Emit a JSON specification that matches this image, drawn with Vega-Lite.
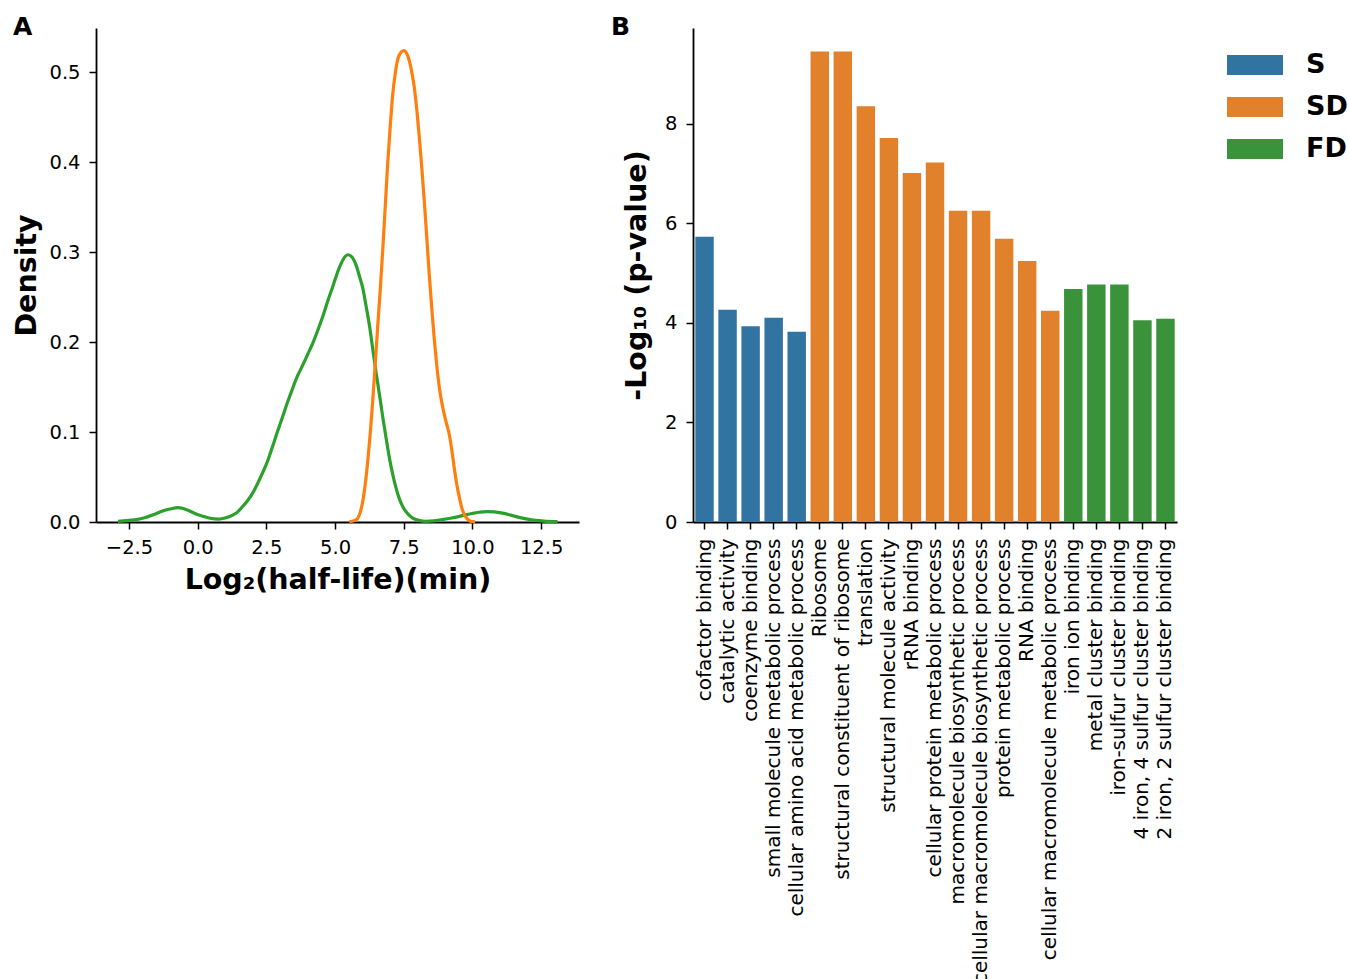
{
  "$schema": "https://vega.github.io/schema/vega-lite/v6.json",
  "background": "white",
  "padding": {"left": 12, "top": 15, "right": 0, "bottom": 0},
  "config": {
    "font": "DejaVu Sans",
    "view": {"stroke": null},
    "axis": {"domainColor": "black", "domainWidth": 1.8, "tickColor": "black", "tickWidth": 1.5, "tickSize": 7, "labelColor": "black", "labelFontSize": 19.5, "labelFont": "DejaVu Sans", "titleFont": "DejaVu Sans", "titleFontSize": 28.5, "titleFontWeight": "bold", "titleColor": "black", "grid": false, "labelPadding": 9, "titlePadding": 12},
    "title": {"fontSize": 25, "fontWeight": "bold", "anchor": "start", "color": "black", "font": "DejaVu Sans", "frame": "group"}
  },
  "datasets": {
    "density": [
      {"series": "FD", "x": -2.9, "density": 0.0007},
      {"series": "FD", "x": -2.5, "density": 0.0018},
      {"series": "FD", "x": -2.23, "density": 0.0026},
      {"series": "FD", "x": -1.9, "density": 0.005},
      {"series": "FD", "x": -1.62, "density": 0.008},
      {"series": "FD", "x": -1.3, "density": 0.012},
      {"series": "FD", "x": -1.01, "density": 0.0144},
      {"series": "FD", "x": -0.71, "density": 0.0159},
      {"series": "FD", "x": -0.4, "density": 0.0137},
      {"series": "FD", "x": -0.1, "density": 0.0095},
      {"series": "FD", "x": 0.16, "density": 0.0067},
      {"series": "FD", "x": 0.45, "density": 0.0042},
      {"series": "FD", "x": 0.77, "density": 0.0033},
      {"series": "FD", "x": 1.0, "density": 0.0045},
      {"series": "FD", "x": 1.26, "density": 0.0074},
      {"series": "FD", "x": 1.45, "density": 0.011},
      {"series": "FD", "x": 1.62, "density": 0.0167},
      {"series": "FD", "x": 1.8, "density": 0.023},
      {"series": "FD", "x": 1.99, "density": 0.0315},
      {"series": "FD", "x": 2.17, "density": 0.042},
      {"series": "FD", "x": 2.35, "density": 0.0537},
      {"series": "FD", "x": 2.55, "density": 0.068},
      {"series": "FD", "x": 2.72, "density": 0.0833},
      {"series": "FD", "x": 2.9, "density": 0.1},
      {"series": "FD", "x": 3.09, "density": 0.1167},
      {"series": "FD", "x": 3.27, "density": 0.133},
      {"series": "FD", "x": 3.45, "density": 0.148},
      {"series": "FD", "x": 3.63, "density": 0.162},
      {"series": "FD", "x": 3.82, "density": 0.174},
      {"series": "FD", "x": 4.0, "density": 0.186},
      {"series": "FD", "x": 4.18, "density": 0.198},
      {"series": "FD", "x": 4.36, "density": 0.212},
      {"series": "FD", "x": 4.55, "density": 0.228},
      {"series": "FD", "x": 4.73, "density": 0.245},
      {"series": "FD", "x": 4.91, "density": 0.261},
      {"series": "FD", "x": 5.16, "density": 0.283},
      {"series": "FD", "x": 5.3, "density": 0.292},
      {"series": "FD", "x": 5.46, "density": 0.297},
      {"series": "FD", "x": 5.6, "density": 0.295},
      {"series": "FD", "x": 5.76, "density": 0.286},
      {"series": "FD", "x": 5.9, "density": 0.272},
      {"series": "FD", "x": 6.01, "density": 0.26},
      {"series": "FD", "x": 6.13, "density": 0.24},
      {"series": "FD", "x": 6.25, "density": 0.219},
      {"series": "FD", "x": 6.37, "density": 0.193},
      {"series": "FD", "x": 6.49, "density": 0.167},
      {"series": "FD", "x": 6.62, "density": 0.141},
      {"series": "FD", "x": 6.74, "density": 0.116},
      {"series": "FD", "x": 6.86, "density": 0.093},
      {"series": "FD", "x": 6.98, "density": 0.071},
      {"series": "FD", "x": 7.1, "density": 0.053},
      {"series": "FD", "x": 7.22, "density": 0.038},
      {"series": "FD", "x": 7.34, "density": 0.026},
      {"series": "FD", "x": 7.46, "density": 0.0174},
      {"series": "FD", "x": 7.65, "density": 0.009},
      {"series": "FD", "x": 7.83, "density": 0.0044},
      {"series": "FD", "x": 8.05, "density": 0.0018},
      {"series": "FD", "x": 8.31, "density": 0.0007},
      {"series": "FD", "x": 8.6, "density": 0.0012},
      {"series": "FD", "x": 8.92, "density": 0.0026},
      {"series": "FD", "x": 9.2, "density": 0.0042},
      {"series": "FD", "x": 9.53, "density": 0.0063},
      {"series": "FD", "x": 9.8, "density": 0.0082},
      {"series": "FD", "x": 10.01, "density": 0.0096},
      {"series": "FD", "x": 10.25, "density": 0.0108},
      {"series": "FD", "x": 10.5, "density": 0.0115},
      {"series": "FD", "x": 10.8, "density": 0.0112},
      {"series": "FD", "x": 11.1, "density": 0.0098},
      {"series": "FD", "x": 11.4, "density": 0.0076},
      {"series": "FD", "x": 11.7, "density": 0.0052},
      {"series": "FD", "x": 12.0, "density": 0.0032},
      {"series": "FD", "x": 12.3, "density": 0.0018},
      {"series": "FD", "x": 12.6, "density": 0.001},
      {"series": "FD", "x": 13.1, "density": 0.0004},
      {"series": "SD", "x": 5.52, "density": 0.0003},
      {"series": "SD", "x": 5.7, "density": 0.0015},
      {"series": "SD", "x": 5.83, "density": 0.0044},
      {"series": "SD", "x": 5.92, "density": 0.011},
      {"series": "SD", "x": 6.01, "density": 0.023},
      {"series": "SD", "x": 6.1, "density": 0.042},
      {"series": "SD", "x": 6.19, "density": 0.067},
      {"series": "SD", "x": 6.28, "density": 0.098},
      {"series": "SD", "x": 6.37, "density": 0.134},
      {"series": "SD", "x": 6.46, "density": 0.174},
      {"series": "SD", "x": 6.55, "density": 0.216},
      {"series": "SD", "x": 6.65, "density": 0.26},
      {"series": "SD", "x": 6.74, "density": 0.304},
      {"series": "SD", "x": 6.83, "density": 0.352},
      {"series": "SD", "x": 6.92, "density": 0.4},
      {"series": "SD", "x": 7.01, "density": 0.44},
      {"series": "SD", "x": 7.1, "density": 0.475},
      {"series": "SD", "x": 7.19, "density": 0.498},
      {"series": "SD", "x": 7.28, "density": 0.514},
      {"series": "SD", "x": 7.4, "density": 0.522},
      {"series": "SD", "x": 7.52, "density": 0.524},
      {"series": "SD", "x": 7.62, "density": 0.52},
      {"series": "SD", "x": 7.71, "density": 0.512},
      {"series": "SD", "x": 7.8, "density": 0.499},
      {"series": "SD", "x": 7.89, "density": 0.482},
      {"series": "SD", "x": 7.98, "density": 0.457},
      {"series": "SD", "x": 8.07, "density": 0.427},
      {"series": "SD", "x": 8.16, "density": 0.393},
      {"series": "SD", "x": 8.25, "density": 0.356},
      {"series": "SD", "x": 8.34, "density": 0.316},
      {"series": "SD", "x": 8.43, "density": 0.275},
      {"series": "SD", "x": 8.52, "density": 0.238},
      {"series": "SD", "x": 8.61, "density": 0.204},
      {"series": "SD", "x": 8.7, "density": 0.175},
      {"series": "SD", "x": 8.8, "density": 0.149},
      {"series": "SD", "x": 8.89, "density": 0.132},
      {"series": "SD", "x": 8.98, "density": 0.119},
      {"series": "SD", "x": 9.07, "density": 0.108},
      {"series": "SD", "x": 9.16, "density": 0.097},
      {"series": "SD", "x": 9.25, "density": 0.08},
      {"series": "SD", "x": 9.34, "density": 0.06},
      {"series": "SD", "x": 9.43, "density": 0.042},
      {"series": "SD", "x": 9.53, "density": 0.0267},
      {"series": "SD", "x": 9.62, "density": 0.015},
      {"series": "SD", "x": 9.71, "density": 0.008},
      {"series": "SD", "x": 9.83, "density": 0.003},
      {"series": "SD", "x": 9.95, "density": 0.0007},
      {"series": "SD", "x": 10.1, "density": 0.0002}
    ],
    "bars": [
      {"term": "cofactor binding", "group": "S", "value": 5.73},
      {"term": "catalytic activity", "group": "S", "value": 4.26},
      {"term": "coenzyme binding", "group": "S", "value": 3.93},
      {"term": "small molecule metabolic process", "group": "S", "value": 4.1},
      {"term": "cellular amino acid metabolic process", "group": "S", "value": 3.82},
      {"term": "Ribosome", "group": "SD", "value": 9.45},
      {"term": "structural constituent of ribosome", "group": "SD", "value": 9.45},
      {"term": "translation", "group": "SD", "value": 8.35},
      {"term": "structural molecule activity", "group": "SD", "value": 7.71},
      {"term": "rRNA binding", "group": "SD", "value": 7.01},
      {"term": "cellular protein metabolic process", "group": "SD", "value": 7.22},
      {"term": "macromolecule biosynthetic process", "group": "SD", "value": 6.25},
      {"term": "cellular macromolecule biosynthetic process", "group": "SD", "value": 6.25},
      {"term": "protein metabolic process", "group": "SD", "value": 5.69},
      {"term": "RNA binding", "group": "SD", "value": 5.24},
      {"term": "cellular macromolecule metabolic process", "group": "SD", "value": 4.24},
      {"term": "iron ion binding", "group": "FD", "value": 4.68},
      {"term": "metal cluster binding", "group": "FD", "value": 4.77},
      {"term": "iron-sulfur cluster binding", "group": "FD", "value": 4.77},
      {"term": "4 iron, 4 sulfur cluster binding", "group": "FD", "value": 4.05},
      {"term": "2 iron, 2 sulfur cluster binding", "group": "FD", "value": 4.08}
    ]
  },
  "spacing": 114,
  "bounds": "flush",
  "resolve": {"scale": {"color": "independent"}, "legend": {"color": "independent"}},
  "hconcat": [
    {
      "width": 483,
      "height": 494,
      "title": {"text": "A", "dx": -83, "offset": -12},
      "data": {"name": "density"},
      "mark": {"type": "line", "strokeWidth": 3.2, "interpolate": "monotone"},
      "encoding": {
        "x": {"field": "x", "type": "quantitative", "scale": {"domain": [-3.7, 13.88], "nice": false, "zero": false}, "axis": {"values": [-2.5, 0, 2.5, 5, 7.5, 10, 12.5], "format": ".1f", "title": "Log₂(half-life)(min)", "titlePadding": 9}},
        "y": {"field": "density", "type": "quantitative", "scale": {"domain": [0, 0.549], "nice": false}, "axis": {"values": [0, 0.1, 0.2, 0.3, 0.4, 0.5], "format": ".1f", "title": "Density", "titlePadding": 7}},
        "color": {"field": "series", "type": "nominal", "scale": {"domain": ["SD", "FD"], "range": ["#ff7f0e", "#2ca02c"]}, "legend": null}
      }
    },
    {
      "width": 484,
      "height": 494,
      "title": {"text": "B", "dx": -82, "offset": -12},
      "data": {"name": "bars"},
      "mark": {"type": "bar"},
      "encoding": {
        "x": {"field": "term", "type": "nominal", "sort": null, "scale": {"paddingInner": 0.2, "paddingOuter": 0.1}, "axis": {"labelAngle": -90, "title": null, "labelPadding": 9, "labelLimit": 0, "labelFontSize": 20}},
        "y": {"field": "value", "type": "quantitative", "scale": {"domain": [0, 9.92], "nice": false}, "axis": {"values": [0, 2, 4, 6, 8], "title": "-Log₁₀ (p-value)", "titlePadding": 13}},
        "color": {"field": "group", "type": "nominal", "scale": {"domain": ["S", "SD", "FD"], "range": ["#3274a1", "#e1812c", "#3a923a"]}, "legend": {"orient": "none", "legendX": 542, "legendY": 17, "title": null, "padding": 0, "symbolType": "M-1.4,-0.5H1.4V0.5H-1.4Z", "symbolSize": 1600, "symbolStrokeWidth": 0, "symbolOpacity": 1, "labelFontSize": 27, "labelFontWeight": "bold", "labelColor": "black", "labelFont": "DejaVu Sans", "rowPadding": 9, "labelOffset": 31}}
      }
    }
  ]
}
